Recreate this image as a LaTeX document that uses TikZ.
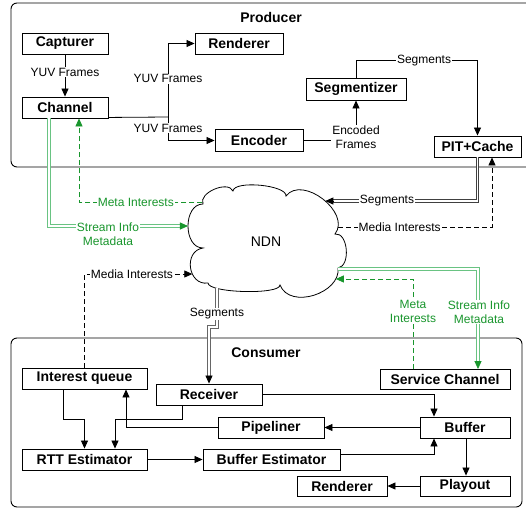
\documentclass[tikz,border=0pt]{standalone}
\usepackage{fontspec}
\setmainfont{Liberation Sans}
\usetikzlibrary{arrows.meta,calc,intersections}
\definecolor{gdark}{RGB}{25,150,45}
\definecolor{glight}{RGB}{105,195,130}
\begin{document}
\begin{tikzpicture}[x=1pt,y=-1pt,
  box/.style={draw,line width=0.9pt,fill=white,inner sep=0pt,minimum height=21pt,font=\fontsize{14}{16}\selectfont\bfseries},
  ttl/.style={inner sep=0pt,font=\fontsize{14}{16}\selectfont\bfseries},
  lbl/.style={fill=white,inner sep=1pt,font=\fontsize{12}{13.5}\selectfont,align=center},
  glbl/.style={lbl,text=gdark},
  conn/.style={line width=0.8pt},
  arr/.style={conn,-{Triangle[length=8pt,width=7pt]}},
  garr/.style={arr,draw=gdark},
  dsh/.style={dash pattern=on 5pt off 3pt},
  dbl/.style={draw=white,line width=1.1pt,preaction={draw=#1,line width=3.1pt}},
  frame/.style={draw,line width=0.9pt,rounded corners=6pt}
]
\useasboundingbox (0,0) rectangle (526,508);
\fill[white] (0,0) rectangle (526,508);

% frames
\draw[frame] (11,3) rectangle (535,167);
\draw[frame] (11,338) rectangle (522,507);
\node[ttl] (prodt) at (271,17) {Producer};
\node[ttl] (const) at (266,353) {Consumer};

% cloud
\draw[line width=0.8pt, fill=white, name path=cloudp]
 (203,248) .. controls (183,248) and (183,204) .. (203,204)
 .. controls (198,193) and (228,180) .. (233,191)
 .. controls (234,180) and (287,185) .. (286,196)
 .. controls (302.5,174.7) and (351.5,212.7) .. (335,234)
 .. controls (348,232) and (351,266) .. (338,268)
 .. controls (341,293) and (290,310) .. (280,285)
 .. controls (280,295) and (208,293) .. (208,283)
 .. controls (188,286) and (183,251) .. (203,248) -- cycle;
\node[font=\fontsize{14}{16}\selectfont] (ndn) at (266,242) {NDN};

% hit points on the cloud
\path[name path=hMeta] (120,202) -- (266,202);
\path[name intersections={of=cloudp and hMeta, sort by=hMeta, by=nMeta}];
\path[name path=hSI] (120,226) -- (266,226);
\path[name intersections={of=cloudp and hSI, sort by=hSI, by=nSI}];
\path[name path=hMIc] (120,274) -- (266,274);
\path[name intersections={of=cloudp and hMIc, sort by=hMIc, by=nMIc}];
\path[name path=hSeg] (420,201) -- (266,201);
\path[name intersections={of=cloudp and hSeg, sort by=hSeg, by=nSeg}];
\path[name path=hMI] (420,227) -- (266,227);
\path[name intersections={of=cloudp and hMI, sort by=hMI, by=nMI}];
\path[name path=hSIr] (420,269) -- (266,269);
\path[name intersections={of=cloudp and hSIr, sort by=hSIr, by=nSIr}];
\path[name path=hMr] (420,279) -- (266,279);
\path[name intersections={of=cloudp and hMr, sort by=hMr, by=nMr}];
\path[name path=vSeg] (217,330) -- (217,242);
\path[name intersections={of=cloudp and vSeg, sort by=vSeg, by=nSegB}];
\coordinate (nSegE) at ($(nSeg)+(8,0)$);
\coordinate (nSIE) at ($(nSI)+(-8,0)$);

% producer boxes
\node[box,minimum width=86pt] (cap) at (65,43.5) {Capturer};
\node[box,minimum width=86pt] (chan) at (65,107.5) {Channel};
\node[box,minimum width=88pt] (rend) at (239,43.5) {Renderer};
\node[box,minimum width=88pt,minimum height=22pt] (enc) at (259,140.5) {Encoder};
\node[box,minimum width=100pt,minimum height=22pt] (seg) at (356,89) {Segmentizer};
\node[box,minimum width=87pt] (pit) at (477.5,146.5) {PIT+Cache};

% consumer boxes
\node[box,minimum width=125pt] (iq) at (84.5,378.5) {Interest queue};
\node[box,minimum width=106pt] (recv) at (209,394.5) {Receiver};
\node[box,minimum width=125pt] (rtt) at (84.5,459.5) {RTT Estimator};
\node[box,minimum width=106pt] (pipe) at (271,427.5) {Pipeliner};
\node[box,minimum width=137pt] (best) at (271.5,459.5) {Buffer Estimator};
\node[box,minimum width=130pt,minimum height=20pt] (svc) at (445,379.5) {Service Channel};
\node[box,minimum width=90pt] (buf) at (465,427.5) {Buffer};
\node[box,minimum width=90pt,minimum height=20pt] (rend2) at (342,486) {Renderer};
\node[box,minimum width=90pt,minimum height=20pt] (play) at (465,486) {Playout};
\coordinate (recvE) at ($(recv.north)+(0,-8)$);
\coordinate (svcE) at ([xshift=33pt,yshift=8pt]svc.north);

% producer connectors
\draw[arr] (cap) -- node[lbl,pos=0.42]{YUV Frames} (chan);
\coordinate (ysplit) at (168,117);
\draw[conn] ([yshift=1pt]chan.south east) -- (ysplit);
\draw[arr] (ysplit) |- node[lbl,pos=0.26]{YUV Frames} (rend.west);
\draw[arr] (ysplit) |- node[lbl,pos=0.235]{YUV Frames} (enc.west);
\draw[arr] (enc.east) -| node[lbl,pos=0.54]{Encoded\\Frames} (seg.south);
\draw[arr] (seg.north) -- ++(0,-17) -| node[lbl,pos=0.28]{Segments} (pit.north);

% producer <-> NDN
\draw[dbl=black!75] (pit.south) |- (nSegE);
\node[lbl] (segl1) at (387,201) {Segments};
\draw[arr] (nSegE) -- (nSeg);
\draw[arr,dsh] (nMI) -| node[lbl,pos=0.2]{Media Interests} ([xshift=14.5pt]pit.south);
\draw[garr,dsh] (nMeta) -| node[glbl,pos=0.27]{Meta Interests} ([xshift=14pt]chan.south);
\draw[dbl=glight] ([xshift=-16pt]chan.south) |- (nSIE);
\node[glbl] (sil) at (108,234) {Stream Info\\Metadata};
\draw[garr] (nSIE) -- (nSI);

% consumer <-> NDN
\draw[arr,dsh] (iq.north) |- node[lbl,pos=0.72]{Media Interests} (nMIc);
\coordinate (segjog) at (213,327);
\draw[dbl=black!60] (nSegB) -- (nSegB |- segjog) -| (recvE);
\node[lbl] (segl2) at (217,314) {Segments};
\draw[arr] (recvE) -- (recv.north);
\draw[dbl=glight] (nSIr) -| (svcE);
\node[glbl] (sir) at (479,312) {Stream Info\\Metadata};
\draw[garr] (svcE) -- ([xshift=33pt]svc.north);
\draw[garr,dsh] ([xshift=-32pt]svc.north) |- node[glbl,pos=0.32]{Meta\\Interests} (nMr);

% consumer connectors
\draw[arr] ([xshift=-21.5pt]iq.south) -- ++(0,30) -| (rtt.north);
\draw[arr] ([xshift=-27pt]recv.south) -- ++(0,14) -| ([xshift=30.5pt]rtt.north);
\draw[arr] (pipe.west) -| ([xshift=41.5pt]iq.south);
\draw[arr] (rtt.east) -- (best.west);
\draw[arr] (recv.east) -| ([xshift=-31pt]buf.north);
\draw[arr] (buf.west) -- (pipe.east);
\draw[arr] ([yshift=5.5pt]best.east) -| ([xshift=-31pt]buf.south);
\draw[arr] ([xshift=1pt]buf.south) -- ([xshift=1pt]play.north);
\draw[arr] (play.west) -- (rend2.east);
\end{tikzpicture}
\end{document}
